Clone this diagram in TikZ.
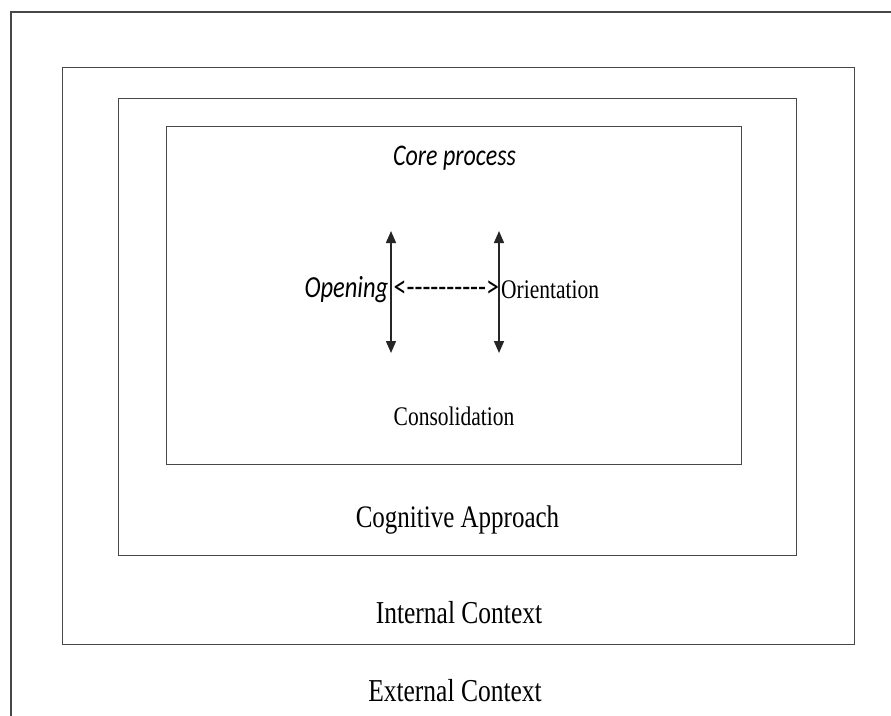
\documentclass[tikz,border=0pt]{standalone}
\usepackage{fontspec}
\setmainfont{Liberation Serif}
\newfontfamily\calfont{Carlito}
\usetikzlibrary{arrows.meta}

% tall text, as set in the layered model
\newcommand{\tall}[1]{\scalebox{1}[1.25]{#1}}

\tikzset{
  frame/.style={draw=black!72, line width=1.4pt, fill=none, inner sep=0pt,
                anchor=north west},
  label/.style={inner sep=0pt, anchor=base, text=black},
  flow/.style={draw=black!85, line width=1.5pt,
               {Triangle[length=12pt,width=10pt]}-{Triangle[length=12pt,width=10pt]}},
}

\begin{document}
\begin{tikzpicture}[x=1pt,y=-1pt]
  \useasboundingbox (0,0) rectangle (891,715);
  \fill[white] (0,0) rectangle (891,715);

  % outermost layer: only its top and left edges fall inside the page
  \coordinate (extBL) at (11,716);
  \coordinate (extTL) at (11,12);
  \coordinate (extTR) at (892,12);
  \draw[draw=black!72, line width=1.4pt] (extBL) -- (extTL) -- (extTR);

  % nested layers
  \node[frame, minimum width=792pt, minimum height=577pt] (internal) at (62,67) {};
  \node[frame, minimum width=678pt, minimum height=457pt] (cognitive) at (118,98) {};
  \node[frame, minimum width=575pt, minimum height=338pt] (core) at (166,126) {};

  % layer titles
  \node[label] (coretitle) at (454.5,165)
    {\tall{\calfont\itshape\fontsize{24}{28}\selectfont Core process}};
  \node[label] (consol) at (454,425)
    {\tall{\fontsize{21.5}{26}\selectfont Consolidation}};
  \node[label] (cogtitle) at (457.5,527)
    {\tall{\fontsize{25}{30}\selectfont Cognitive Approach}};
  \node[label] (inttitle) at (459,623)
    {\tall{\fontsize{25.5}{30}\selectfont Internal Context}};
  \node[label] (exttitle) at (455,701)
    {\tall{\fontsize{25.5}{30}\selectfont External Context}};

  % opening / orientation pair
  \node[label, anchor=base east] (opening) at (388.5,297)
    {\tall{\calfont\itshape\fontsize{24.5}{28}\selectfont Opening}};
  \node[label, anchor=base west] (dashes) at (393.5,297)
    {\scalebox{1.06}[1.3]{\calfont\fontsize{24.5}{28}\selectfont <---------->}};
  \node[label, anchor=base west] (orient) at (501,298)
    {\tall{\fontsize{21.5}{26}\selectfont Orientation}};

  % vertical movement arrows
  \coordinate (openTop) at (391,231);
  \coordinate (openBot) at (391,353);
  \coordinate (oriTop) at (499,231);
  \coordinate (oriBot) at (499,353);
  \draw[flow] (openTop) -- (openBot);
  \draw[flow] (oriTop) -- (oriBot);
\end{tikzpicture}
\end{document}
